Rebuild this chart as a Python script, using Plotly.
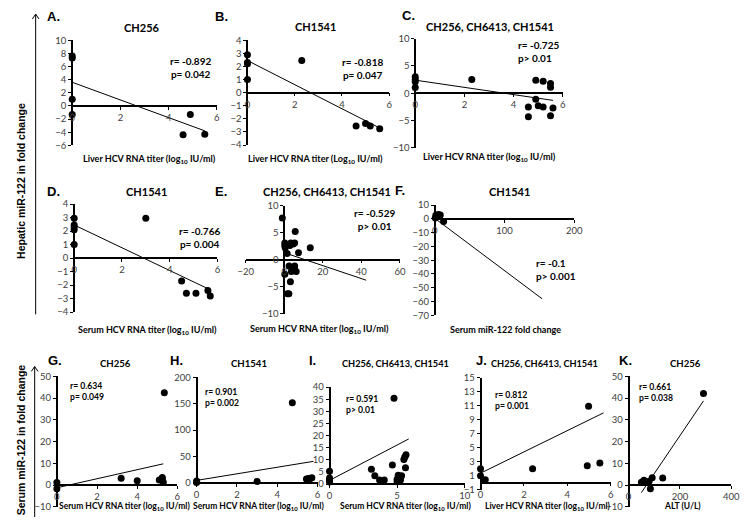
import plotly.graph_objects as go

W, H = 749, 522

# ---------------- data ----------------
A_x = [0, 0, 0, 0, 4.6, 4.9, 5.5]
A_y = [7.6, 7.3, 1.0, -1.3, -4.4, -1.3, -4.3]
A_tx = [0, 5.5]
A_ty = [3.6, -3.8]

B_x = [0, 0, 0, 0, 2.3, 4.6, 5.0, 5.2, 5.6]
B_y = [2.9, 2.3, 2.2, 1.0, 2.45, -2.55, -2.35, -2.55, -2.75]
B_tx = [0, 5.6]
B_ty = [2.45, -2.7]

C_x = [0, 0, 0, 0, 2.3, 4.9, 5.2, 5.5, 5.5, 4.9, 4.6, 5.0, 5.2, 5.6, 4.6, 5.5]
C_y = [3.0, 2.5, 2.1, 1.05, 2.5, 2.4, 2.2, 1.8, 1.1, -1.1, -2.5, -2.3, -2.5, -2.7, -4.3, -4.1]
C_tx = [0, 5.6]
C_ty = [2.4, -1.3]

D_x = [0, 0, 0, 0, 0, 3.0, 4.5, 4.7, 5.1, 5.6, 5.7]
D_y = [2.95, 2.45, 2.3, 2.1, 1.0, 2.95, -1.7, -2.6, -2.6, -2.4, -2.8]
D_tx = [0, 5.7]
D_ty = [2.45, -2.35]

E_x = [-1.0, 5.7, 0.3, 0.3, 0.5, 2.9, 3.4, 4.6, 5.4, 1.5, 7.4, 13.5,
       2.5, 5.4, 3.7, 5.4, 6.2, 0.3, 3.2, 1.7, 2.4]
E_y = [7.7, 5.2, 3.1, 2.65, 2.2, 2.65, 3.1, 2.9, 3.1, 1.15, 1.3, 2.2,
       -1.15, -1.15, -2.2, -2.0, -2.2, -2.7, -4.1, -6.3, -6.3]
E_tx = [0, 42.5]
E_ty = [1.3, -3.8]

F_x = [0.8, 1.5, 3.2, 5.0, 6.5, 7.9, 12.6]
F_y = [0.5, 2.5, 2.3, 3.2, 2.6, 2.8, -1.9]
F_tx = [3, 154]
F_ty = [-0.8, -58]

G_x = [0, 0, 3.2, 4.0, 5.1, 5.25, 5.25, 5.3, 5.35]
G_y = [1.2, -1.7, 3.2, 2.0, 2.4, 3.5, 2.6, 1.3, 42.5]
G_tx = [0, 5.3]
G_ty = [-1.2, 9.8]

H_x = [0, 0, 3.0, 4.75, 5.45, 5.55, 5.65, 5.72]
H_y = [4.0, 1.0, 3.0, 152, 7.5, 8.5, 8.5, 10.0]
H_tx = [0, 5.8]
H_ty = [5, 41]

I_x = [0, 0, 0, 0, 3.1, 3.35, 3.7, 4.05, 4.77, 4.65, 5.08, 5.0, 5.0,
       5.25, 5.33, 5.5, 5.57, 5.62, 5.66]
I_y = [5.3, 2.5, 1.7, 0.8, 6.1, 3.4, 1.7, 1.7, 35.4, 7.8, 3.6, 2.0, 0.9,
       1.7, 3.4, 10.1, 11.2, 6.7, 12.1]
I_tx = [0, 5.86]
I_ty = [1.5, 18.6]

J_x = [0, 0, 0.22, 2.4, 4.98, 4.92, 5.5]
J_y = [2.0, 1.0, 0.4, 2.0, 10.95, 2.4, 2.8]
J_tx = [0, 5.67]
J_ty = [1.35, 10.0]

K_x = [50, 60, 70, 80, 92, 133, 85, 292]
K_y = [1.3, 2.3, 1.3, 1.8, 3.4, 3.3, -1.7, 42.1]
K_tx = [50, 292]
K_ty = [-3.4, 38.7]

LETTERS = ["A.", "B.", "C.", "D.", "E.", "F.", "G.", "H.", "I.", "J.", "K."]
TITLES = ["CH256", "CH1541", "CH256, CH6413, CH1541",
          "CH1541", "CH256, CH6413, CH1541", "CH1541",
          "CH256", "CH1541", "CH256, CH6413, CH1541", "CH256, CH6413, CH1541", "CH256"]
STATS = ["r= -0.892<br>p= 0.042", "r= -0.818<br>p= 0.047", "r= -0.725<br>p> 0.01",
         "r= -0.766<br>p= 0.004", "r= -0.529<br>p> 0.01", "r= -0.1<br>p> 0.001",
         "r= 0.634<br>p= 0.049", "r= 0.901<br>p= 0.002", "r= 0.591<br>p> 0.01",
         "r= 0.812<br>p= 0.001", "r= 0.661<br>p= 0.038"]
LIVER = "Liver HCV RNA titer (log<sub>10</sub> IU/ml)"
SERUM = "Serum HCV RNA titer (log<sub>10</sub> IU/ml)"
XTITLES = [LIVER, "Liver HCV RNA titer (Log<sub>10</sub> IU/ml)", LIVER,
           SERUM, SERUM, "Serum miR-122 fold change",
           SERUM, SERUM, SERUM, LIVER, "ALT (U/L)"]
SIDE_TOP = "Hepatic miR-122 in fold change"
SIDE_BOTTOM = "Serum miR-122 in fold change"

SERIES = [(A_x, A_y, A_tx, A_ty), (B_x, B_y, B_tx, B_ty), (C_x, C_y, C_tx, C_ty),
          (D_x, D_y, D_tx, D_ty), (E_x, E_y, E_tx, E_ty), (F_x, F_y, F_tx, F_ty),
          (G_x, G_y, G_tx, G_ty), (H_x, H_y, H_tx, H_ty), (I_x, I_y, I_tx, I_ty),
          (J_x, J_y, J_tx, J_ty), (K_x, K_y, K_tx, K_ty)]

# ---------------- layout geometry (pixels) ----------------
GEOM = [
    dict(px=(65.7, 213.7), py=(35, 142.3), xr=(0, 6), yr=(-6, 10), dx=2, dy=2, t0=0, lw=2),
    dict(px=(245, 390), py=(35, 142), xr=(0, 6), yr=(-4, 4), dx=2, dy=1, t0=0, lw=2),
    dict(px=(416.7, 567.7), py=(33.3, 145), xr=(0, 6), yr=(-10, 10), dx=2, dy=5, t0=0, lw=1.5),
    dict(px=(67.7, 214.3), py=(202.3, 312.7), xr=(0, 6), yr=(-4, 4), dx=2, dy=1, t0=0, lw=2),
    dict(px=(243.2, 401), py=(204, 314.3), xr=(-20, 60), yr=(-10, 10), dx=20, dy=5, t0=0, lw=1.5),
    dict(px=(436.7, 579.3), py=(203.3, 316), xr=(0, 200), yr=(-70, 10), dx=100, dy=10, t0=0, lw=1.5),
    dict(px=(50, 173.3), py=(378.3, 511.7), xr=(0, 6), yr=(-10, 50), dx=2, dy=10, t0=0, lw=2),
    dict(px=(193, 316.7), py=(379.3, 487.3), xr=(0, 6), yr=(0, 200), dx=2, dy=50, t0=0, lw=2),
    dict(px=(329, 467.3), py=(389.3, 488.3), xr=(0, 10), yr=(0, 40), dx=5, dy=5, t0=0, lw=1.5),
    dict(px=(483.5, 616.7), py=(380, 494), xr=(0, 6), yr=(-1, 15), dx=2, dy=2, t0=-1, lw=1.5),
    dict(px=(635, 740), py=(378.3, 511.7), xr=(0, 400), yr=(-10, 50), dx=200, dy=10, t0=0, lw=2),
]
LETTER_POS = [(47, 11), (218, 11), (410, 10), (47, 189), (218, 189), (401, 188),
              (48, 362), (172, 362), (312, 362), (484, 362), (632, 362)]
TITLE_POS = [(137, 22), (315, 21), (493, 21), (142, 190), (326, 189), (513, 189),
             (110, 365), (247, 365), (397, 365), (549, 365), (693, 365)]
TITLE_SIZE = [11, 11, 11, 11, 11, 11, 9.6, 9.6, 9.2, 9.2, 9.6]
STAT_POS = [(187, 63, 'center'), (363, 63.5, 'center'), (520, 46, 'left'),
            (196, 236.5, 'center'), (375, 218.5, 'center'), (538, 269, 'left'),
            (61.5, 394, 'left'), (199.5, 399.5, 'left'), (343.5, 407, 'left'),
            (496.5, 403, 'left'), (643.5, 394.5, 'left')]
STAT_SIZE = [10, 10, 10, 10, 10, 10, 8.6, 8.6, 8.6, 8.6, 8.6]
XT_POS = [(145, 156), (315, 156), (493, 154), (143, 331), (319, 330), (509, 330),
          (119, 511), (256, 511), (407, 511), (553, 511), (690, 511)]
XT_SIZE = [9, 9, 9, 9, 9, 9, 8.5, 8.5, 8.5, 8.5, 8.5]

TXT = "Lato"
fig = go.Figure()
layout = {}
annotations = []
shapes = []


def pp(x, y):
    return x / W, 1 - y / H


for i, (g, (xs, ys, tx, ty)) in enumerate(zip(GEOM, SERIES)):
    n = "" if i == 0 else str(i + 1)
    xd = [g['px'][0] / W, g['px'][1] / W]
    yd = [1 - g['py'][1] / H, 1 - g['py'][0] / H]
    x0, x1 = g['xr']
    y0, y1 = g['yr']
    xpos = yd[0] + (0 - y0) / (y1 - y0) * (yd[1] - yd[0])
    ypos = xd[0] + (0 - x0) / (x1 - x0) * (xd[1] - xd[0])
    tickfont = dict(family=TXT, size=9.5, color="#404040")
    layout['xaxis' + n] = dict(domain=xd, range=list(g['xr']), anchor='free', position=xpos,
                               showline=True, linecolor='black', linewidth=1.5,
                               ticks='outside', ticklen=3, tickcolor='black', tickwidth=1,
                               dtick=g['dx'], tick0=0, showgrid=False, zeroline=False,
                               tickfont=tickfont, fixedrange=True)
    layout['yaxis' + n] = dict(domain=yd, range=list(g['yr']), anchor='free', position=ypos,
                               showline=True, linecolor='black', linewidth=g['lw'],
                               ticks='outside', ticklen=3, tickcolor='black', tickwidth=1,
                               dtick=g['dy'], tick0=g['t0'], showgrid=False, zeroline=False,
                               tickfont=tickfont, fixedrange=True)
    fig.add_trace(go.Scatter(x=tx, y=ty, mode='lines', xaxis='x' + n, yaxis='y' + n,
                             line=dict(color='black', width=1), showlegend=False,
                             hoverinfo='skip'))
    fig.add_trace(go.Scatter(x=xs, y=ys, mode='markers', xaxis='x' + n, yaxis='y' + n,
                             marker=dict(color='black', size=7), cliponaxis=False,
                             showlegend=False))

    lx, ly = pp(*LETTER_POS[i])
    annotations.append(dict(x=lx, y=ly, xref='paper', yref='paper', text='<b>' + LETTERS[i] + '</b>',
                            showarrow=False, xanchor='center', yanchor='middle',
                            font=dict(family='Liberation Sans', size=13, color='black')))
    tx_, ty_ = pp(*TITLE_POS[i])
    annotations.append(dict(x=tx_, y=ty_, xref='paper', yref='paper', text='<b>' + TITLES[i] + '</b>',
                            showarrow=False, xanchor='center', yanchor='middle',
                            font=dict(family=TXT, size=TITLE_SIZE[i], color='black')))
    sx, sy = pp(STAT_POS[i][0], STAT_POS[i][1])
    annotations.append(dict(x=sx, y=sy, xref='paper', yref='paper', text='<b>' + STATS[i] + '</b>',
                            showarrow=False, xanchor=STAT_POS[i][2], yanchor='middle',
                            align=STAT_POS[i][2],
                            font=dict(family=TXT, size=STAT_SIZE[i], color='black')))
    ax_, ay_ = pp(*XT_POS[i])
    annotations.append(dict(x=ax_, y=ay_, xref='paper', yref='paper', text='<b>' + XTITLES[i] + '</b>',
                            showarrow=False, xanchor='center', yanchor='middle',
                            font=dict(family=TXT, size=XT_SIZE[i], color='black')))

# side labels
for text, (x, y) in [(SIDE_TOP, (14, 179)), (SIDE_BOTTOM, (13, 443))]:
    px_, py_ = pp(x, y)
    annotations.append(dict(x=px_, y=py_, xref='paper', yref='paper', text='<b>' + text + '</b>',
                            showarrow=False, textangle=-90, xanchor='center', yanchor='middle',
                            font=dict(family='Liberation Sans', size=10.5, color='black')))

# arrows (vertical lines with open chevron heads)
for (xa, ytop, ybot) in [(28.3, 8.3, 315), (27.3, 368.3, 522)]:
    for (xx0, yy0, xx1, yy1) in [(xa, ytop, xa, ybot), (xa - 3.4, ytop + 5, xa, ytop),
                                 (xa + 3.4, ytop + 5, xa, ytop)]:
        a0, b0 = pp(xx0, yy0)
        a1, b1 = pp(xx1, yy1)
        shapes.append(dict(type='line', xref='paper', yref='paper', x0=a0, y0=b0, x1=a1, y1=b1,
                           line=dict(color='black', width=1)))

fig.update_layout(**layout)
fig.update_layout(width=W, height=H, margin=dict(l=0, r=0, t=0, b=0),
                  paper_bgcolor='white', plot_bgcolor='white',
                  annotations=annotations, shapes=shapes, showlegend=False)
fig.write_html("out.html", config={'displayModeBar': False},
               post_script="document.body.style.margin='0';document.body.style.overflow='hidden';")
